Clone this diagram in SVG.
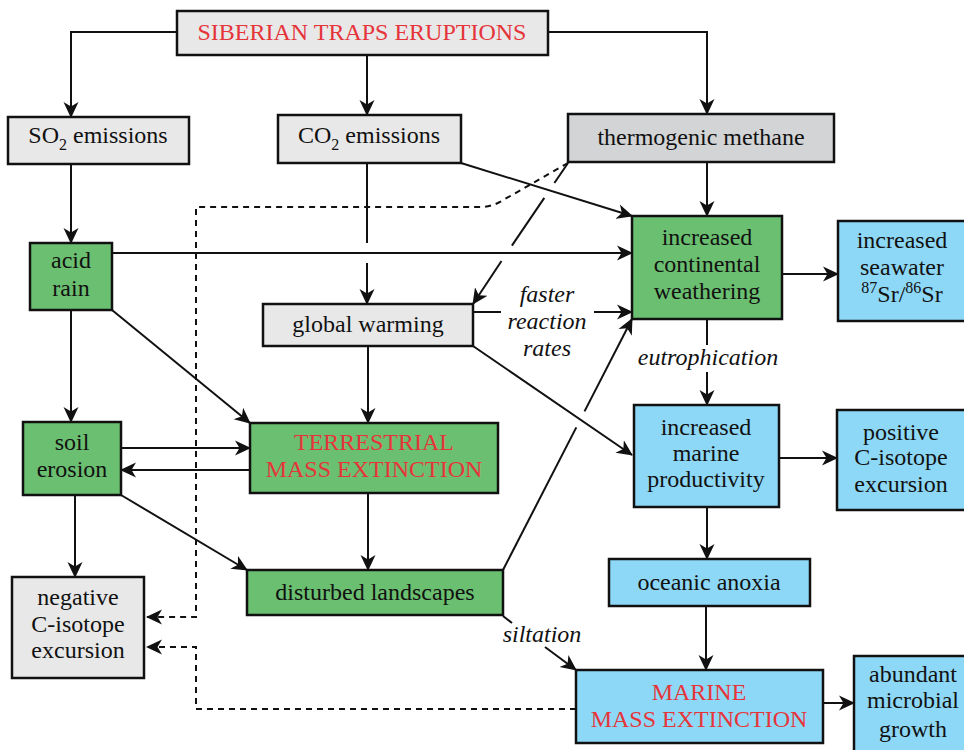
<svg xmlns="http://www.w3.org/2000/svg" width="964" height="750" viewBox="0 0 964 750">
<defs>
<style>
text{font-family:"Liberation Serif","Times New Roman",serif;font-size:24px;fill:#111;text-anchor:middle}
.red{fill:#e6353a}
.it{font-style:italic}
.box{stroke:#111;stroke-width:2.5}
.gray{fill:#e8e8e8}
.dgray{fill:#d3d4d6}
.green{fill:#6bbf70}
.blue{fill:#8ed8f7}
.ln{fill:none;stroke:#111;stroke-width:2}
.arr{marker-end:url(#ah)}
.dash{fill:none;stroke:#111;stroke-width:2;stroke-dasharray:6 5}
</style>
<marker id="ah" viewBox="0 0 16 16" markerWidth="16" markerHeight="16" refX="15" refY="8" orient="auto" markerUnits="userSpaceOnUse">
<path d="M0,0.5 L16,8 L0,15.5 L4.5,8 Z" fill="#111"/>
</marker>
</defs>
<rect width="964" height="750" fill="#fff"/>

<g id="connectors">
<path class="ln arr" d="M177,32 L71,32 L71,117"/>
<path class="ln arr" d="M367,55 L367,115"/>
<path class="ln arr" d="M548,32 L707,32 L707,114"/>
<path class="ln arr" d="M71,164 L71,243"/>
<path class="ln" d="M367,163 L367,243"/>
<path class="ln arr" d="M367,263 L367,304"/>
<path class="ln arr" d="M461,163 L632,216"/>
<path class="ln arr" d="M707,162 L707,216"/>
<path class="ln" d="M568,163 L554.4,183"/>
<path class="ln" d="M544.3,197.9 L511.9,245.6"/>
<path class="ln arr" d="M501.5,261 L473,304"/>
<path class="ln arr" d="M112,253 L632,253"/>
<path class="ln arr" d="M782,274 L838,274"/>
<path class="ln" d="M473,312 L501,312"/>
<path class="ln arr" d="M594,312 L632,312"/>
<path class="ln" d="M707,319 L707,345"/>
<path class="ln arr" d="M707,372 L707,405"/>
<path class="ln arr" d="M71,310 L71,422"/>
<path class="ln arr" d="M112,310 L250,423"/>
<path class="ln arr" d="M368,346 L368,423"/>
<path class="ln arr" d="M473,346 L632,455"/>
<path class="ln arr" d="M121,448 L250,448"/>
<path class="ln arr" d="M250,470 L121,470"/>
<path class="ln arr" d="M75,495 L75,577"/>
<path class="ln arr" d="M121,495 L247,570"/>
<path class="ln arr" d="M368,493 L368,570"/>
<path class="ln" d="M503,570 L576.3,427.4"/>
<path class="ln arr" d="M584.5,411.4 L632,319"/>
<path class="ln" d="M503,616 L512,623"/>
<path class="ln arr" d="M545,647 L576,670"/>
<path class="ln arr" d="M779,458 L837,458"/>
<path class="ln arr" d="M707,507 L707,559"/>
<path class="ln arr" d="M706,606 L706,670"/>
<path class="ln arr" d="M823,703 L854,703"/>
<path class="dash arr" d="M568,163 L505,199 Q493,207 480,207 L196,207 L196,617 L147,617"/>
<path class="dash arr" d="M576,709 L196,709 L196,647 L147,647"/>
<text class="it" x="547" y="302">faster</text>
<text class="it" x="547" y="329">reaction</text>
<text class="it" x="547" y="356">rates</text>
<text class="it" x="708" y="365">eutrophication</text>
<text class="it" x="542" y="642">siltation</text>
</g>

<g id="siberian">
<rect class="box gray" x="177" y="11" width="371" height="44"/>
<text class="red" x="362" y="40">SIBERIAN TRAPS ERUPTIONS</text>
</g>
<g id="so2">
<rect class="box gray" x="8" y="117" width="181" height="47"/>
<text x="98" y="143">SO<tspan font-size="16" dy="7">2</tspan><tspan dy="-7"> emissions</tspan></text>
</g>
<g id="co2">
<rect class="box gray" x="278" y="115" width="183" height="48"/>
<text x="369" y="143">CO<tspan font-size="16" dy="7">2</tspan><tspan dy="-7"> emissions</tspan></text>
</g>
<g id="methane">
<rect class="box dgray" x="568" y="114" width="266" height="48"/>
<text x="701" y="145">thermogenic methane</text>
</g>
<g id="acid-rain">
<rect class="box green" x="30" y="243" width="82" height="67"/>
<text x="71" y="268">acid</text>
<text x="71" y="296">rain</text>
</g>
<g id="weathering">
<rect class="box green" x="632" y="216" width="150" height="103"/>
<text x="707" y="245">increased</text>
<text x="707" y="272">continental</text>
<text x="707" y="299">weathering</text>
</g>
<g id="seawater">
<rect class="box blue" x="838" y="221" width="140" height="100"/>
<text x="902" y="248">increased</text>
<text x="902" y="275">seawater</text>
<text x="902" y="302"><tspan font-size="16" dy="-9">87</tspan><tspan dy="9">Sr/</tspan><tspan font-size="16" dy="-9">86</tspan><tspan dy="9">Sr</tspan></text>
</g>
<g id="global-warming">
<rect class="box gray" x="263" y="304" width="210" height="42"/>
<text x="368" y="332">global warming</text>
</g>
<g id="soil-erosion">
<rect class="box green" x="23" y="422" width="98" height="73"/>
<text x="72" y="450">soil</text>
<text x="72" y="477">erosion</text>
</g>
<g id="terrestrial">
<rect class="box green" x="250" y="423" width="248" height="70"/>
<text class="red" x="374" y="450">TERRESTRIAL</text>
<text class="red" x="374" y="477">MASS EXTINCTION</text>
</g>
<g id="productivity">
<rect class="box blue" x="634" y="405" width="145" height="102"/>
<text x="706" y="435">increased</text>
<text x="706" y="461">marine</text>
<text x="706" y="487">productivity</text>
</g>
<g id="positive">
<rect class="box blue" x="837" y="410" width="140" height="100"/>
<text x="901" y="440">positive</text>
<text x="901" y="465">C-isotope</text>
<text x="901" y="492">excursion</text>
</g>
<g id="negative">
<rect class="box gray" x="12" y="577" width="132" height="101"/>
<text x="78" y="605">negative</text>
<text x="78" y="632">C-isotope</text>
<text x="78" y="658">excursion</text>
</g>
<g id="disturbed">
<rect class="box green" x="247" y="570" width="256" height="45"/>
<text x="375" y="600">disturbed landscapes</text>
</g>
<g id="anoxia">
<rect class="box blue" x="609" y="559" width="201" height="47"/>
<text x="709" y="590">oceanic anoxia</text>
</g>
<g id="marine">
<rect class="box blue" x="576" y="670" width="247" height="73"/>
<text class="red" x="699" y="700">MARINE</text>
<text class="red" x="699" y="727">MASS EXTINCTION</text>
</g>
<g id="microbial">
<rect class="box blue" x="854" y="656" width="130" height="110"/>
<text x="913" y="682">abundant</text>
<text x="913" y="708">microbial</text>
<text x="913" y="737">growth</text>
</g>
</svg>
